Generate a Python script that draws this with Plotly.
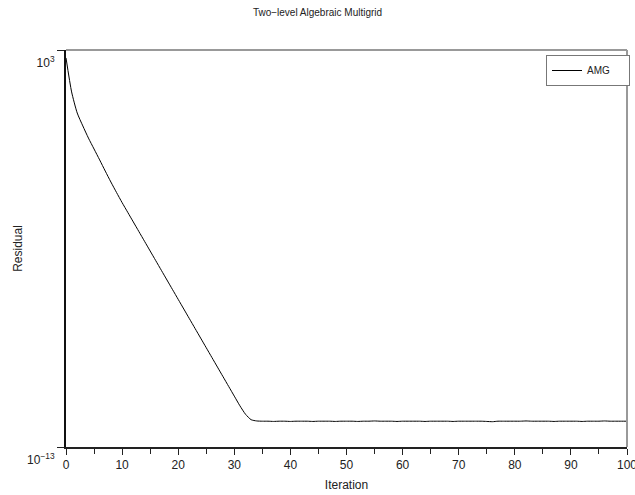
import plotly.graph_objects as go

# Iteration numbers 0..100
iterations = list(range(0, 101))

# log10 of residual
log_residual = [
    2.68, 1.31, 0.46, -0.06, -0.55, -0.99, -1.43, -1.88, -2.32, -2.74,
    -3.15, -3.54, -3.93, -4.32, -4.71, -5.10, -5.49, -5.88, -6.27, -6.66,
    -7.05, -7.44, -7.83, -8.22, -8.61, -9.00, -9.39, -9.78, -10.17, -10.56,
    -10.95, -11.34, -11.68, -11.90, -11.95, -11.96, -11.96, -11.97, -11.96, -11.96,
    -11.97, -11.96, -11.96, -11.96, -11.97, -11.96, -11.96, -11.96, -11.97, -11.96,
    -11.96, -11.96, -11.97, -11.96, -11.96, -11.95, -11.96, -11.96, -11.96, -11.97,
    -11.96, -11.96, -11.96, -11.96, -11.97, -11.96, -11.96, -11.96, -11.96, -11.97,
    -11.96, -11.96, -11.96, -11.96, -11.96, -11.97, -11.98, -11.96, -11.96, -11.96,
    -11.96, -11.96, -11.95, -11.96, -11.96, -11.96, -11.96, -11.97, -11.96, -11.96,
    -11.96, -11.96, -11.97, -11.96, -11.96, -11.96, -11.95, -11.96, -11.96, -11.96,
    -11.96,
]
residual = [10 ** v for v in log_residual]

x_tickvals = [0, 10, 20, 30, 40, 50, 60, 70, 80, 90, 100]
y_tickvals = [1e-13, 1e3]
y_ticktext = ["10<sup>\u221213</sup>", "10<sup>3</sup>"]

FONT = "Liberation Sans, Arial, sans-serif"

fig = go.Figure()
fig.add_trace(go.Scatter(
    x=iterations, y=residual, mode="lines",
    name="AMG" + "\u00a0" * 5,
    line=dict(color="#000000", width=1, shape="spline", smoothing=0.6),
))

fig.update_layout(
    width=635, height=495,
    margin=dict(l=66, r=8, t=50, b=48, autoexpand=False),
    paper_bgcolor="white", plot_bgcolor="white",
    font=dict(family=FONT, size=12, color="#222222"),
    title=dict(text="Two\u2212level Algebraic Multigrid", x=0.5, xref="container",
               xanchor="center", y=1 - 12 / 495, yanchor="middle",
               font=dict(size=10, color="#222222"), automargin=False),
    showlegend=True,
    legend=dict(x=(546 - 66) / 561, y=(447 - 55) / 397, xanchor="left", yanchor="top",
                bordercolor="#777777", borderwidth=1, bgcolor="white",
                font=dict(size=10), itemwidth=30),
    xaxis=dict(range=[0, 100], tickvals=x_tickvals, ticks="outside", ticklen=6,
               tickcolor="#222222", showline=True, linecolor="#222222", linewidth=2,
               showgrid=False, zeroline=False, tickfont=dict(size=12),
               automargin=False, ticklabeloverflow="allow",
               minor=dict(dtick=5, ticks="outside", ticklen=5, tickcolor="#222222", showgrid=False),
               title=dict(text="Iteration", font=dict(size=12), standoff=9)),
    yaxis=dict(type="log", range=[-13, 3], tickvals=y_tickvals, ticktext=y_ticktext,
               ticks="outside", ticklen=7, tickcolor="#222222",
               showline=True, linecolor="#111111", linewidth=2,
               showgrid=False, zeroline=False, tickfont=dict(size=12),
               automargin=False, ticklabeloverflow="allow",
               ticklabelshift=13,
               title=dict(text="Residual", font=dict(size=12), standoff=2)),
    shapes=[
        dict(type="line", xref="paper", yref="paper", x0=0, x1=1, y0=1, y1=1,
             line=dict(color="#999999", width=2)),
        dict(type="line", xref="paper", yref="paper", x0=1, x1=1, y0=0, y1=1,
             line=dict(color="#999999", width=2)),
    ],
)

fig.write_html("out.html",
               config={"displayModeBar": False},
               post_script="document.body.style.margin='0';document.body.style.overflow='hidden';")
